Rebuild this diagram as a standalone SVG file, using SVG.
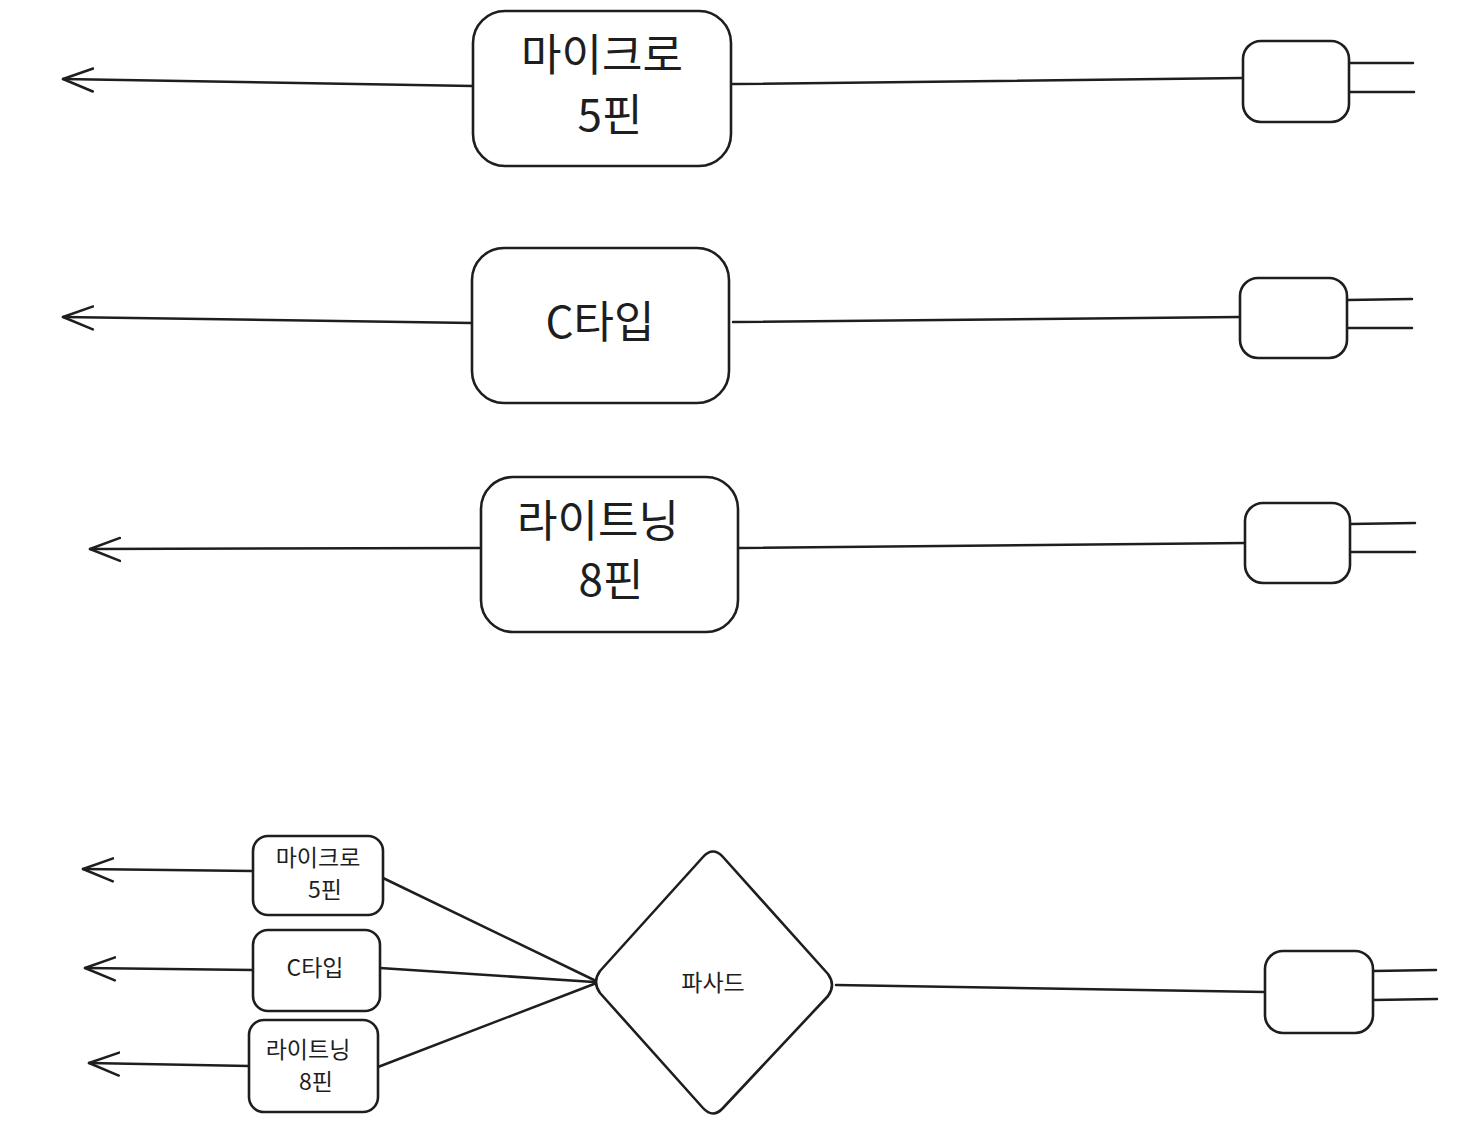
<svg xmlns="http://www.w3.org/2000/svg" width="1465" height="1144" viewBox="0 0 1465 1144">
<style>
.s{fill:none;stroke:#1e1e1e;stroke-width:2.5;stroke-linecap:round;stroke-linejoin:round}
.b{fill:#fff;stroke:#1e1e1e;stroke-width:2.6}
.t{font-family:"Noto Sans CJK KR","Noto Sans",sans-serif;fill:#1e1e1e;text-anchor:middle;font-weight:400}
.L{font-size:44px}
.M{font-size:23px}
</style>
<defs>
<marker id="ah" markerWidth="40" markerHeight="30" refX="31" refY="15" orient="auto" markerUnits="userSpaceOnUse">
<path d="M1,3 L31,15 L1,26" fill="none" stroke="#1e1e1e" stroke-width="2.5" stroke-linecap="round" stroke-linejoin="round"/>
</marker>
</defs>
<rect width="1465" height="1144" fill="#fff"/>
<g id="connectors">
<path class="s" d="M473,86 L63,79" marker-end="url(#ah)"/>
<path class="s" d="M733,84 L1243,78"/>
<path class="s" d="M1349,63 L1413,63 M1349,92 L1414,92"/>
<path class="s" d="M472,323 L63,317" marker-end="url(#ah)"/>
<path class="s" d="M733,322 L1240,317"/>
<path class="s" d="M1347,300 L1412,299 M1347,328 L1412,328"/>
<path class="s" d="M479,548 L90,549" marker-end="url(#ah)"/>
<path class="s" d="M738,548 L1245,543"/>
<path class="s" d="M1350,524 L1415,523 M1350,552 L1415,552"/>
<path class="s" d="M253,871 L83,869" marker-end="url(#ah)"/>
<path class="s" d="M253,970 L85,968" marker-end="url(#ah)"/>
<path class="s" d="M249,1066 L89,1063" marker-end="url(#ah)"/>
<path class="s" d="M383,878 L594,980"/>
<path class="s" d="M380,968 L594,982"/>
<path class="s" d="M378,1067 L594,984"/>
<path class="s" d="M836,985 L1265,992"/>
<path class="s" d="M1373,971 L1436,970 M1373,1000 L1437,999"/>
</g>
<g id="micro5">
<rect class="b" x="473" y="11" width="258" height="155" rx="32"/>
<text class="t L" x="602" y="71">마이크로</text>
<text class="t L" x="610" y="131">5핀</text>
</g>
<g id="plug1"><rect class="b" x="1243" y="41" width="106" height="81" rx="18"/></g>
<g id="ctype">
<rect class="b" x="472" y="248" width="257" height="155" rx="32"/>
<text class="t L" x="600" y="338">C타입</text>
</g>
<g id="plug2"><rect class="b" x="1240" y="278" width="107" height="80" rx="18"/></g>
<g id="lightning8">
<rect class="b" x="481" y="477" width="257" height="155" rx="32"/>
<text class="t L" x="598" y="537">라이트닝</text>
<text class="t L" x="611" y="596">8핀</text>
</g>
<g id="plug3"><rect class="b" x="1245" y="503" width="105" height="80" rx="18"/></g>
<g id="s-micro5">
<rect class="b" x="253" y="836" width="130" height="79" rx="15"/>
<text class="t M" x="318" y="866">마이크로</text>
<text class="t M" x="325" y="898">5핀</text>
</g>
<g id="s-ctype">
<rect class="b" x="253" y="930" width="127" height="81" rx="15"/>
<text class="t M" x="315" y="976">C타입</text>
</g>
<g id="s-lightning8">
<rect class="b" x="249" y="1020" width="129" height="92" rx="15"/>
<text class="t M" x="308" y="1058">라이트닝</text>
<text class="t M" x="316" y="1090">8핀</text>
</g>
<g id="facade">
<path class="b" stroke-linejoin="round" d="M600,971 L703,857 Q713,846 723,857 L828,974 Q836,985 828,996 L723,1108 Q713,1119 703,1108 L600,993 Q592,982 600,971 Z"/>
<text class="t M" x="713" y="991">파사드</text>
</g>
<g id="plug4"><rect class="b" x="1265" y="951" width="108" height="82" rx="18"/></g>
</svg>
